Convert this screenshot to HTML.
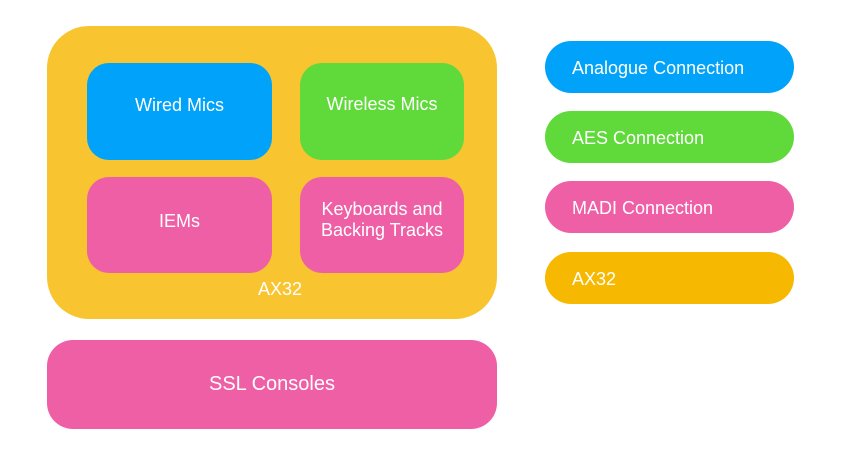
<!DOCTYPE html>
<html><head><style>
body{margin:0;width:850px;height:468px;background:#fff;position:relative;overflow:hidden;font-family:"Liberation Sans",sans-serif;color:#fff}
div.b{position:absolute;box-sizing:border-box;display:flex;align-items:center;justify-content:center;text-align:center}
.p{border-radius:26px;justify-content:flex-start!important;padding-left:27px;font-size:18px;padding-top:2px}
</style></head><body>
<div class="b" style="left:47px;top:26px;width:450px;height:293px;background:#f8c530;border-radius:42px"></div>
<div class="b" style="left:87px;top:63px;width:185px;height:97px;background:#00a3f9;border-radius:22px;font-size:18px;padding-bottom:12px">Wired Mics</div>
<div class="b" style="left:300px;top:63px;width:164px;height:97px;background:#60d93a;border-radius:22px;font-size:18px;padding-bottom:14px">Wireless Mics</div>
<div class="b" style="left:87px;top:177px;width:185px;height:96px;background:#ee5fa6;border-radius:22px;font-size:18px;padding-bottom:8px">IEMs</div>
<div class="b" style="left:300px;top:177px;width:164px;height:96px;background:#ee5fa6;border-radius:22px;font-size:18px;line-height:21px;padding-bottom:10px">Keyboards and<br>Backing Tracks</div>
<div class="b" style="left:240px;top:279px;width:80px;height:20px;font-size:18px">AX32</div>
<div class="b" style="left:47px;top:340px;width:450px;height:89px;background:#ee5fa6;border-radius:26px;font-size:20px">SSL Consoles</div>
<div class="b p" style="left:545px;top:41px;width:249px;height:52px;background:#00a3f9">Analogue Connection</div>
<div class="b p" style="left:545px;top:111px;width:249px;height:52px;background:#60d93a">AES Connection</div>
<div class="b p" style="left:545px;top:181px;width:249px;height:52px;background:#ee5fa6">MADI Connection</div>
<div class="b p" style="left:545px;top:252px;width:249px;height:52px;background:#f6b800">AX32</div>
</body></html>
